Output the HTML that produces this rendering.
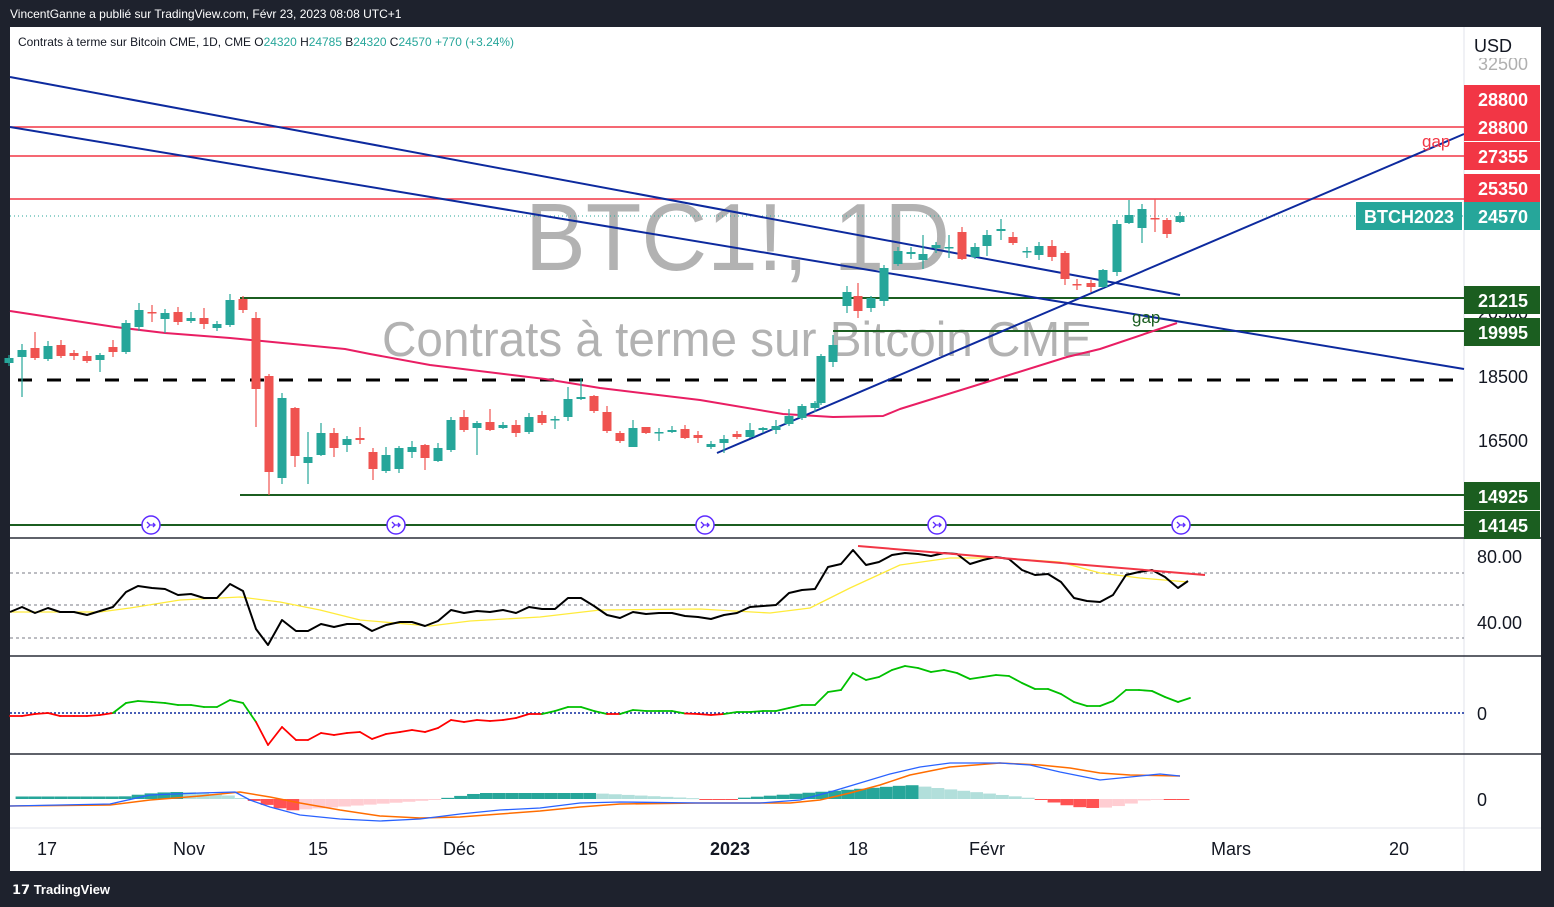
<!DOCTYPE html>
<html><head><meta charset="utf-8"><style>
html,body{margin:0;padding:0;background:#1e222d;width:1554px;height:907px;overflow:hidden;font-family:"Liberation Sans",sans-serif}
svg{display:block}
</style></head><body>
<svg id="s" width="1554" height="907" xmlns="http://www.w3.org/2000/svg" font-family="Liberation Sans, sans-serif"></svg>
<script>
var o=[];
function P(s){o.push(s);}
P('<rect x="0" y="0" width="1554" height="907" fill="#1e222d"/>');
P('<rect x="10" y="27" width="1531" height="844" fill="#fff"/>');
P('<text x="10" y="18" fill="#fff" font-size="12">VincentGanne a publié sur TradingView.com, Févr 23, 2023 08:08 UTC+1</text>');
P('<text x="12" y="894" fill="#fff" font-size="13" font-weight="bold">𝟭𝟳 TradingView</text>');
P('<text x="525" y="270" fill="#b2b2b2" font-size="96" textLength="425" lengthAdjust="spacingAndGlyphs">BTC1!, 1D</text>');
P('<text x="382" y="356" fill="#b2b2b2" font-size="49" textLength="710" lengthAdjust="spacingAndGlyphs">Contrats à terme sur Bitcoin CME</text>');
P('<line x1="1464" y1="27" x2="1464" y2="871" stroke="#e0e3eb"/>');
[538,656,754].forEach(function(y){P('<line x1="10" y1="'+y+'" x2="1541" y2="'+y+'" stroke="#2a2e39" stroke-width="1.5"/>');});
P('<line x1="10" y1="828" x2="1541" y2="828" stroke="#e0e3eb"/>');
[127,156,199].forEach(function(y){P('<line x1="10" y1="'+y+'" x2="1464" y2="'+y+'" stroke="#f23645" stroke-width="1.5"/>');});
P('<line x1="10" y1="216" x2="1464" y2="216" stroke="#26a69a" stroke-dasharray="1,3"/>');
P('<line x1="240" y1="298" x2="1464" y2="298" stroke="#1b5e20" stroke-width="2"/>');
P('<line x1="833" y1="331" x2="1464" y2="331" stroke="#1b5e20" stroke-width="2"/>');
P('<line x1="240" y1="495" x2="1464" y2="495" stroke="#1b5e20" stroke-width="2"/>');
P('<line x1="10" y1="525" x2="1464" y2="525" stroke="#1b5e20" stroke-width="2"/>');
P('<line x1="18" y1="380" x2="1464" y2="380" stroke="#000" stroke-width="3" stroke-dasharray="14,15"/>');
function pl(pts,c,w,extra){P('<polyline points="'+pts.map(function(p){return p.join(",")}).join(" ")+'" fill="none" stroke="'+c+'" stroke-width="'+w+'" stroke-linejoin="round" '+(extra||'')+'/>');}
pl([[10,311],[115,327],[165,333],[230,338],[262,341],[345,349],[370,354],[430,365],[545,379],[600,388],[700,400],[783,414],[833,417],[883,416],[900,409],[990,381],[1067,357],[1100,349],[1177,323]],"#e91e63",2);
P('<line x1="10" y1="77" x2="1180" y2="295" stroke="#0d2a9e" stroke-width="2"/>');
P('<line x1="10" y1="127" x2="1464" y2="369" stroke="#0d2a9e" stroke-width="2"/>');
P('<line x1="717" y1="453" x2="1464" y2="134" stroke="#0d2a9e" stroke-width="2"/>');
P('<text x="1422" y="147" fill="#f23645" font-size="17">gap</text>');
P('<text x="1132" y="323" fill="#1b5e20" font-size="17">gap</text>');
var C=[
['g',9,363,358,355,366],
['g',22,357,350,344,397],['r',35,348,358,332,360],['g',48,359,346,341,361],['r',61,345,356,340,358],['r',74,353,356,350,360],['r',87,356,361,351,363],['g',100,360,355,353,372],['r',113,347,352,340,357],['g',126,352,323,320,354],['g',139,327,310,303,331],['r',152,312,313,305,322],['g',165,319,313,309,333],['r',178,312,322,307,325],['g',191,321,318,312,323],['r',204,318,324,308,329],['g',217,328,324,321,331],['g',230,325,300,294,327],['r',243,299,310,296,313],['r',256,318,389,312,427],['r',269,376,472,374,495],['g',282,478,398,393,484],['r',295,408,456,407,467],['g',308,463,457,432,484],['g',321,455,433,423,456],['r',334,433,448,428,457],['g',347,445,439,436,452],['r',360,438,440,427,444],['r',373,452,469,448,480],['g',386,471,455,447,473],['g',399,469,448,446,473],['g',412,452,447,441,458],['r',425,445,458,444,470],['g',438,461,448,443,462],['g',451,450,420,417,452],['r',464,417,430,410,432],['g',477,428,423,421,455],['r',490,422,430,409,431],['g',503,428,425,422,429],['r',516,425,433,420,437],['g',529,432,417,413,434],['r',542,415,423,411,425],['g',555,420,419,416,429],['g',568,417,399,387,421],['g',581,399,397,378,400],['r',594,396,411,395,413],
['r',607,412,431,406,433],['r',620,433,441,431,443],['g',633,447,428,420,447],['r',646,427,433,427,434],['g',659,432,432,428,441],['g',672,432,430,426,433],['r',685,429,438,425,439],['r',698,435,438,431,443],['g',711,447,444,441,449],['g',724,443,439,435,453],['r',737,434,437,431,439],['g',750,437,430,423,438],['g',763,430,428,427,433],['g',776,430,426,420,434],['g',789,424,416,409,426],['g',802,418,406,404,420],['g',815,408,403,401,412],
['g',821,403,356,354,405],['g',833,362,345,335,367],['g',847,306,292,286,313],['r',858,296,311,283,318],['g',871,308,298,296,312],['g',884,301,268,265,306],['g',898,264,251,247,266],['g',911,254,252,247,259],['g',923,260,254,235,269],['g',936,248,245,242,253],['g',949,247,247,235,258],['r',962,232,259,227,260],['g',975,257,247,243,259],['g',987,246,235,230,256],['g',1001,231,229,219,240],['r',1013,237,243,232,245],['g',1027,251,251,247,258],['g',1039,255,246,242,260],['r',1052,246,257,240,261],['r',1065,253,279,251,285],['r',1077,284,284,279,290],['r',1091,283,287,280,292],['g',1103,287,270,269,288],['g',1117,272,224,220,276],['g',1129,223,215,200,224],['g',1142,228,209,204,243],['r',1155,218,218,199,232],['r',1167,220,234,218,238],['g',1180,222,216,212,223]];
C.forEach(function(c){var col=c[0]=='g'?'#26a69a':'#ef5350';var x=c[1];var t=Math.min(c[2],c[3]),b=Math.max(c[2],c[3]);if(b-t<1.5){b=t+1.5;}
P('<line x1="'+x+'" y1="'+c[4]+'" x2="'+x+'" y2="'+c[5]+'" stroke="'+col+'" stroke-width="1.2"/>');
P('<rect x="'+(x-4.5)+'" y="'+t+'" width="9" height="'+(b-t)+'" fill="'+col+'"/>');});
[151,396,705,937,1181].forEach(function(x){P('<circle cx="'+x+'" cy="525" r="9" fill="#fff" stroke="#5e2bff" stroke-width="1.5"/><path d="M'+(x-4)+' 522 l3 3 l-3 3 M'+(x-1)+' 525 h5 m-2 -2 l2 2 l-2 2" stroke="#5e2bff" fill="none" stroke-width="1.3"/>');});
[573,605,638].forEach(function(y){P('<line x1="10" y1="'+y+'" x2="1464" y2="'+y+'" stroke="#787b86" stroke-dasharray="3,3"/>');});
pl([[10,612],[100,612],[130,608],[180,600],[240,597],[280,602],[320,610],[360,620],[430,626],[470,621],[540,617],[600,610],[700,609],[770,613],[810,608],[850,588],[900,565],[950,558],[1000,558],[1060,562],[1100,573],[1140,578],[1188,582]],"#ffeb3b",1.3);
pl([[10,612],[22,607],[35,613],[48,608],[60,612],[74,612],[87,615],[100,611],[113,607],[126,592],[138,586],[152,588],[165,589],[178,595],[191,594],[204,598],[217,598],[230,584],[243,591],[256,629],[268,645],[282,620],[296,631],[308,631],[321,624],[334,627],[347,624],[360,624],[372,631],[386,625],[400,622],[412,622],[425,626],[438,621],[451,610],[464,613],[477,611],[490,612],[503,610],[516,613],[529,607],[542,609],[555,609],[568,598],[581,598],[594,606],[607,615],[620,618],[633,612],[646,614],[659,613],[672,613],[685,616],[698,617],[711,619],[724,615],[737,613],[750,607],[763,606],[776,605],[789,593],[802,590],[815,589],[828,567],[841,564],[853,550],[866,565],[879,562],[892,555],[905,553],[918,554],[931,556],[944,553],[957,554],[970,564],[983,560],[996,557],[1009,559],[1022,570],[1035,575],[1048,574],[1061,582],[1074,598],[1087,601],[1100,602],[1113,595],[1126,575],[1139,572],[1152,570],[1165,577],[1178,588],[1188,581]],"#000",2);
P('<line x1="858" y1="546" x2="1205" y2="575" stroke="#f23645" stroke-width="2"/>');
P('<line x1="10" y1="713" x2="1464" y2="713" stroke="#0d2a9e" stroke-width="1.5" stroke-dasharray="2,2"/>');
var M=[[10,716],[22,716],[35,714],[48,713],[60,716],[74,716],[87,716],[100,715],[113,713],[126,703],[138,701],[152,702],[165,703],[178,705],[191,705],[204,707],[217,707],[230,700],[243,703],[256,722],[268,745],[282,727],[296,740],[308,740],[321,733],[334,735],[347,733],[360,732],[372,739],[386,734],[400,732],[412,730],[425,732],[438,728],[451,720],[464,722],[477,720],[490,721],[503,720],[516,718],[529,714],[542,714],[555,711],[568,707],[581,707],[594,711],[607,714],[620,714],[633,710],[646,711],[659,711],[672,711],[685,713.5],[698,714],[711,715],[724,714],[737,712],[750,712],[763,711],[776,711],[789,708],[802,705],[815,705],[828,692],[841,690],[853,673],[866,680],[879,677],[892,670],[905,666],[918,668],[931,672],[944,670],[957,673],[970,679],[983,677],[996,675],[1009,676],[1022,683],[1035,689],[1048,689],[1061,694],[1074,702],[1087,706],[1100,706],[1113,701],[1126,690],[1139,690],[1152,691],[1165,697],[1178,702],[1190,698]];
for(var i=0;i<M.length-1;i++){var a=M[i],b=M[i+1];var col=(a[1]+b[1])/2>713?'#ff0000':'#00c000';P('<line x1="'+a[0]+'" y1="'+a[1]+'" x2="'+b[0]+'" y2="'+b[1]+'" stroke="'+col+'" stroke-width="1.8" stroke-linecap="round"/>');}
function hv(x){
 if(x<120)return 2.5; if(x<240)return 2+5*Math.sin((x-120)/120*Math.PI); if(x<250)return 1;
 if(x<440){return -11*Math.max(0,1-(x-290)/150)*(x<290?(x-250)/40:1)-0.5;}
 if(x<700){return x<580?6*Math.min(1,(x-440)/40):6*(1-(x-580)/120)+0.5;}
 if(x<740)return -0.8; if(x<910)return 1+13*(x-740)/170; if(x<1040)return 14*(1-(x-910)/130);
 if(x<1150)return -9*Math.sin((x-1040)/110*Math.PI); return -1;}
var prev=0;
for(var i=0;i<91;i++){var x=22+12.9*i;if(x>1185)break;var v=hv(x);var col;
 if(v>=0)col=v>=prev?'#26a69a':'#b2dfdb';else col=v<=prev?'#ff5252':'#ffcdd2';prev=v;
 var y=v>=0?799-v:799;P('<rect x="'+(x-6.4)+'" y="'+y+'" width="12.8" height="'+Math.max(1,Math.abs(v))+'" fill="'+col+'"/>');}
pl([[10,806],[110,805],[150,800],[200,796],[240,792],[270,797],[300,803],[340,810],[380,816],[420,818],[460,817],[500,814],[540,811],[580,807],[620,804],[700,803],[790,803],[820,800],[850,793],[880,785],[910,775],[950,767],[1000,763],[1040,765],[1070,768],[1100,773],[1130,775],[1180,776]],"#ff6d00",1.5);
pl([[10,806],[110,804],[150,795],[200,793],[235,792],[250,800],[270,807],[300,815],[340,819],[380,821],[420,819],[460,814],[500,810],[540,808],[580,803],[620,802],[700,803],[760,803],[800,800],[830,792],[860,783],[890,774],[920,767],[950,763],[1000,763],[1030,765],[1060,772],[1100,780],[1130,777],[1160,774],[1180,776]],"#2962ff",1.3);
function lab(y,t,bg,w){P('<rect x="1464" y="'+(y-14)+'" width="76" height="28" fill="'+bg+'"/><text x="1503" y="'+(y+7)+'" fill="#fff" font-size="18" font-weight="bold" text-anchor="middle">'+t+'</text>');}
P('<text x="1478" y="70" font-size="18" fill="#b0b0b0">32500</text>');
P('<rect x="1465" y="28" width="75" height="30" fill="#fff"/>');
P('<text x="1474" y="52" font-size="18" fill="#131722">USD</text>');
P('<text x="1478" y="319" font-size="18" fill="#131722">20500</text>');
lab(99,'28800','#f23645');lab(127,'28800','#f23645');lab(156,'27355','#f23645');lab(188,'25350','#f23645');lab(216,'24570','#26a69a');
P('<rect x="1356" y="202" width="106" height="28" fill="#26a69a"/><text x="1409" y="223" fill="#fff" font-size="18" font-weight="bold" text-anchor="middle">BTCH2023</text>');
lab(300,'21215','#1b5e20');lab(332,'19995','#1b5e20');lab(496,'14925','#1b5e20');lab(525,'14145','#1b5e20');
P('<text x="1478" y="383" font-size="18" fill="#131722">18500</text>');
P('<text x="1478" y="447" font-size="18" fill="#131722">16500</text>');
P('<text x="1477" y="563" font-size="18" fill="#131722">80.00</text>');
P('<text x="1477" y="629" font-size="18" fill="#131722">40.00</text>');
P('<text x="1477" y="720" font-size="18" fill="#131722">0</text>');
P('<text x="1477" y="806" font-size="18" fill="#131722">0</text>');
[[47,'17'],[189,'Nov'],[318,'15'],[459,'Déc'],[588,'15'],[858,'18'],[987,'Févr'],[1231,'Mars'],[1399,'20']].forEach(function(a){P('<text x="'+a[0]+'" y="855" font-size="18" fill="#131722" text-anchor="middle">'+a[1]+'</text>');});
P('<text x="730" y="855" font-size="18" fill="#131722" font-weight="bold" text-anchor="middle">2023</text>');
P('<text x="18" y="46" font-size="12" fill="#131722" textLength="496" lengthAdjust="spacingAndGlyphs">Contrats à terme sur Bitcoin CME, 1D, CME  O<tspan fill="#26a69a">24320</tspan> H<tspan fill="#26a69a">24785</tspan> B<tspan fill="#26a69a">24320</tspan> C<tspan fill="#26a69a">24570 +770 (+3.24%)</tspan></text>');
document.getElementById('s').innerHTML=o.join('');
</script>
</body></html>
